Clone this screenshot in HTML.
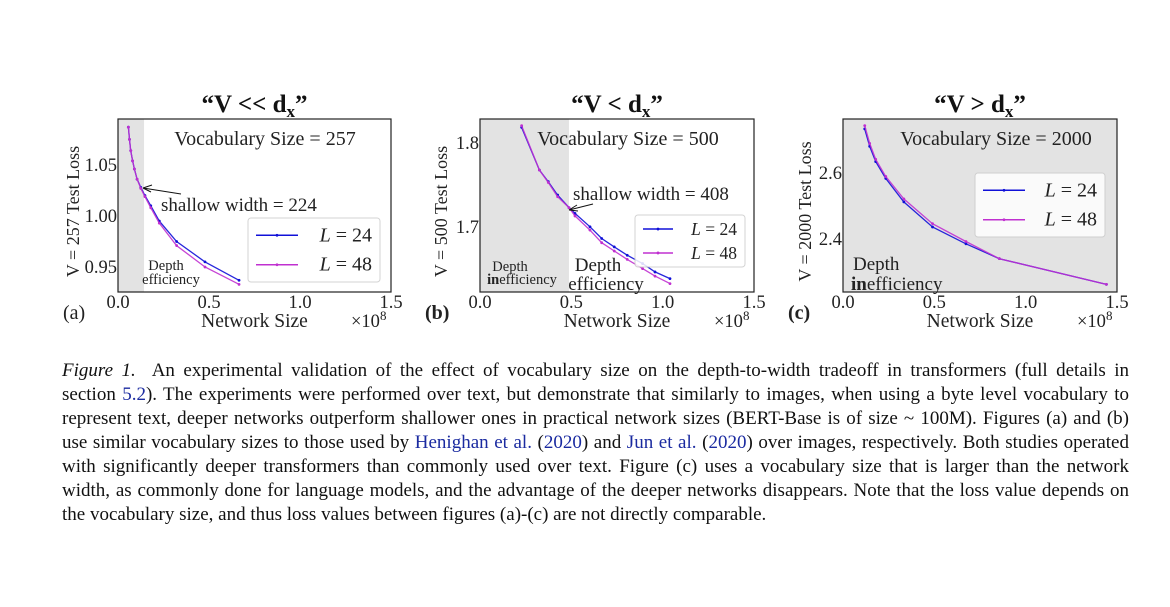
<!DOCTYPE html>
<html><head><meta charset="utf-8"><style>
body{margin:0;background:#fff;width:1170px;height:607px;overflow:hidden;font-family:"Liberation Serif",serif}
#cap{position:absolute;left:62px;top:359px;width:1067px;font-size:19px;line-height:24px;color:#111}
#cap div{text-align:justify;text-align-last:justify;white-space:nowrap}
#cap div.last{text-align-last:left}
a{color:#1a2aa0;text-decoration:none}
</style></head><body>
<svg id="fig" width="1170" height="340" style="position:absolute;left:0;top:0" font-family="Liberation Serif, serif"></svg>
<div id="cap">
<div><i>Figure 1.</i>&nbsp; An experimental validation of the effect of vocabulary size on the depth-to-width tradeoff in transformers (full details in</div>
<div>section <a>5.2</a>). The experiments were performed over text, but demonstrate that similarly to images, when using a byte level vocabulary to</div>
<div>represent text, deeper networks outperform shallower ones in practical network sizes (BERT-Base is of size ~ 100M). Figures (a) and (b)</div>
<div>use similar vocabulary sizes to those used by <a>Henighan et al.</a> (<a>2020</a>) and <a>Jun et al.</a> (<a>2020</a>) over images, respectively. Both studies operated</div>
<div>with significantly deeper transformers than commonly used over text. Figure (c) uses a vocabulary size that is larger than the network</div>
<div>width, as commonly done for language models, and the advantage of the deeper networks disappears. Note that the loss value depends on</div>
<div class="last">the vocabulary size, and thus loss values between figures (a)-(c) are not directly comparable.</div>
</div>
<script>
const xTicks=[0.0,0.5,1.0,1.5];
const aX=[0.057,0.063,0.07,0.08,0.09,0.105,0.125,0.148,0.18,0.227,0.322,0.478,0.665];
const aL24=[1.087,1.075,1.064,1.054,1.046,1.036,1.028,1.020,1.010,0.995,0.975,0.955,0.937];
const aL48=[1.087,1.075,1.064,1.054,1.046,1.036,1.027,1.019,1.008,0.993,0.971,0.950,0.933];
const aYTicks=[0.95,1.00,1.05];
const bX=[0.228,0.325,0.374,0.425,0.487,0.52,0.602,0.666,0.735,0.806,0.89,0.958,1.04];
const bL24=[1.819,1.768,1.754,1.738,1.723,1.716,1.700,1.686,1.676,1.666,1.656,1.646,1.638];
const bL48=[1.821,1.768,1.753,1.736,1.723,1.713,1.696,1.681,1.671,1.661,1.650,1.641,1.632];
const bYTicks=[1.7,1.8];
const cX=[0.119,0.146,0.179,0.234,0.333,0.49,0.673,0.856,1.442];
const cL24=[2.734,2.681,2.635,2.584,2.513,2.437,2.386,2.341,2.263];
const cL48=[2.744,2.690,2.642,2.590,2.522,2.447,2.393,2.341,2.263];
const cYTicks=[2.4,2.6];

const svg=document.getElementById('fig');
const NS='http://www.w3.org/2000/svg';
function mk(tag,at,parent){const e=document.createElementNS(NS,tag);for(const k in at)e.setAttribute(k,at[k]);(parent||svg).appendChild(e);return e;}
function txt(s,at,name,parent){const e=mk('text',at,parent);e.innerHTML=s;
return e;}

function panel(p){
  const g=mk('g',{});
  
  
  const X=v=>p.x0+(v-0)/1.5*(p.x1-p.x0);
  const Y=v=>p.y1-(v-p.ymin)/(p.ymax-p.ymin)*(p.y1-p.y0);
  const bg=mk('rect',{x:p.x0,y:p.y0,width:p.x1-p.x0,height:p.y1-p.y0,fill:'#fff'},g);
  
  
  const sh=mk('rect',{x:p.x0,y:p.y0,width:X(p.shade)-p.x0,height:p.y1-p.y0,fill:'#e3e3e3'},g);
  
  
  const series=[[p.l24,'#1010d8','line-l24'],[p.l48,'#c030d0','line-l48']];
  series.forEach(([ys,col,nm])=>{
    const pts=p.xs.map((v,i)=>X(v).toFixed(1)+','+Y(ys[i]).toFixed(1)).join(' ');
    const pl=mk('polyline',{points:pts,fill:'none',stroke:col,'stroke-width':1.3,opacity:0.9},g);
    
    
    p.xs.forEach((v,i)=>{const c=mk('circle',{cx:X(v),cy:Y(ys[i]),r:1.4,fill:col},g);
      
      });
  });
  const fr=mk('rect',{x:p.x0,y:p.y0,width:p.x1-p.x0,height:p.y1-p.y0,fill:'none',stroke:'#222','stroke-width':1.2},g);
  
  
  xTicks.forEach(t=>txt(t.toFixed(1),{x:X(t),y:p.y1+16,'font-size':18.5,'text-anchor':'middle',fill:'#222'},'x-tick-label',g));
  p.yt.forEach(t=>txt(t.toFixed(p.yd),{x:p.x0-1,y:Y(t)+6,'font-size':18.5,'text-anchor':'end',fill:'#222'},'y-tick-label',g));
  txt('Network Size',{x:(p.x0+p.x1)/2,y:p.y1+35,'font-size':19.5,'text-anchor':'middle',fill:'#222'},'x-axis-title',g);
  txt('×10<tspan dy="-7" font-size="13">8</tspan>',{x:p.x1-40,y:p.y1+35,'font-size':18.5,fill:'#222'},'x-scale-label',g);
  txt('('+p.id+')',{x:p.x0-55,y:p.y1+27,'font-size':20,'font-weight':p.id=='a'?'normal':'bold',fill:'#222'},'panel-label',g);
  txt(p.ylab,{x:0,y:0,'font-size':18,'text-anchor':'middle',fill:'#222',transform:`translate(${p.ylx},${(p.y0+p.y1)/2+6}) rotate(-90)`},'y-axis-title',g);
  txt(p.title,{x:(p.x0+p.x1)/2,y:p.y0-7,'font-size':25,'font-weight':'bold','text-anchor':'middle',fill:'#111'},'panel-title',g);
  txt(p.vocab,{x:p.vx,y:p.y0+26,'font-size':20,'text-anchor':'middle',fill:'#222'},'vocabulary-label',g);
  const L=p.leg;
  const lr=mk('rect',{x:L[0],y:L[1],width:L[2],height:L[3],rx:3,fill:'#fff',stroke:'#ccc','stroke-width':1,opacity:0.85},g);
  
  
  [['L = 24','#1010d8'],['L = 48','#c030d0']].forEach(([s,c],i)=>{
    const yy=L[1]+L[3]*(0.27+0.46*i);
    const ln=mk('line',{x1:L[0]+8,x2:L[0]+8+L[4],y1:yy,y2:yy,stroke:c,'stroke-width':1.5},g);
    
    
    mk('circle',{cx:L[0]+8+L[4]/2,cy:yy,r:1.4,fill:c},g);
    txt('<tspan font-style="italic">L</tspan> = '+(i?48:24),{x:L[0]+L[2]-8,y:yy+6,'font-size':L[5],'text-anchor':'end',fill:'#222'},'legend-entry',g);
  });
  p.extra(g,X,Y);
}

panel({id:'a',x0:118,x1:391,y0:119,y1:292,ymin:0.9255,ymax:1.095,shade:0.143,xs:aX,l24:aL24,l48:aL48,yt:aYTicks,yd:2,
 ylab:'V = 257 Test Loss',ylx:79,title:'“V &lt;&lt; d<tspan dy="5" font-size="17">x</tspan><tspan dy="-5">”</tspan>',vocab:'Vocabulary Size = 257',vx:265,
 leg:[248,218,132,64,42,20],
 extra:(g,X,Y)=>{
  txt('shallow width = 224',{x:161,y:211,'font-size':19,fill:'#222'},'annotation-text',g);
  mk('line',{x1:181,y1:194,x2:143,y2:188,stroke:'#111','stroke-width':1},g);
  mk('path',{d:'M143,188 l9,-3 M143,188 l8,4',stroke:'#111',fill:'none','stroke-width':1},g);
  txt('Depth',{x:166,y:270,'font-size':14.5,'text-anchor':'middle',fill:'#222'},'depth-label',g);
  txt('efficiency',{x:171,y:284,'font-size':14.5,'text-anchor':'middle',fill:'#222'},'efficiency-label',g);
 }});
panel({id:'b',x0:480,x1:754,y0:119,y1:292,ymin:1.622,ymax:1.829,shade:0.487,xs:bX,l24:bL24,l48:bL48,yt:bYTicks,yd:1,
 ylab:'V = 500 Test Loss',ylx:447,title:'“V &lt; d<tspan dy="5" font-size="17">x</tspan><tspan dy="-5">”</tspan>',vocab:'Vocabulary Size = 500',vx:628,
 leg:[635,215,110,52,30,17.5],
 extra:(g,X,Y)=>{
  txt('shallow width = 408',{x:573,y:200,'font-size':19,fill:'#222'},'annotation-text',g);
  mk('line',{x1:593,y1:204,x2:569,y2:210,stroke:'#111','stroke-width':1},g);
  mk('path',{d:'M569,210 l8,-5 M569,210 l9,1',stroke:'#111',fill:'none','stroke-width':1},g);
  txt('Depth',{x:510,y:271,'font-size':14.5,'text-anchor':'middle',fill:'#222'},'depth-label',g);
  txt('<tspan font-weight="bold">in</tspan>efficiency',{x:522,y:284,'font-size':14.5,'text-anchor':'middle',fill:'#222'},'inefficiency-label',g);
  txt('Depth',{x:598,y:271,'font-size':19,'text-anchor':'middle',fill:'#222'},'depth-label',g);
  txt('efficiency',{x:606,y:290,'font-size':19,'text-anchor':'middle',fill:'#222'},'efficiency-label',g);
 }});
panel({id:'c',x0:843,x1:1117,y0:119,y1:292,ymin:2.240,ymax:2.764,shade:1.5,xs:cX,l24:cL24,l48:cL48,yt:cYTicks,yd:1,
 ylab:'V = 2000 Test Loss',ylx:811,title:'“V &gt; d<tspan dy="5" font-size="17">x</tspan><tspan dy="-5">”</tspan>',vocab:'Vocabulary Size = 2000',vx:996,
 leg:[975,173,130,64,42,20],
 extra:(g,X,Y)=>{
  txt('Depth',{x:853,y:270,'font-size':19,fill:'#222'},'depth-label',g);
  txt('<tspan font-weight="bold">in</tspan>efficiency',{x:851,y:290,'font-size':19,fill:'#222'},'inefficiency-label',g);
 }});
</script>
</body></html>
